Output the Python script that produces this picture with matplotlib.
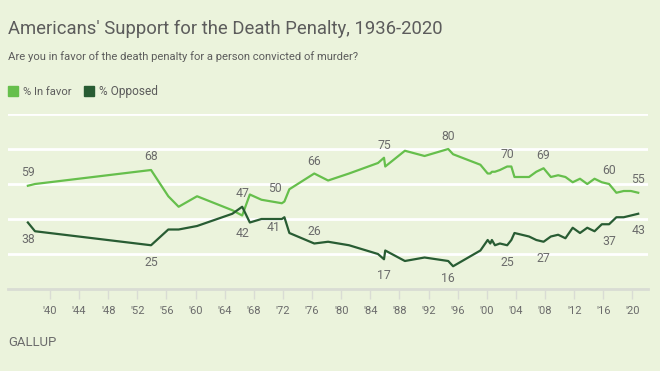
import matplotlib
matplotlib.use("Agg")
import matplotlib.pyplot as plt

# ---------------- data ----------------
years = [1936.96, 1937.94, 1953.88, 1956.25, 1957.67, 1960.2, 1965.05, 1966.4, 1967.45,
         1969.05, 1971.85, 1972.2, 1972.88, 1976.3, 1978.2, 1981.08, 1985.05, 1985.88,
         1986.05, 1988.75, 1991.45, 1994.7, 1995.37, 1999.12, 2000.12, 2000.48, 2000.7,
         2001.12, 2001.8, 2002.8, 2003.37, 2003.8, 2004.8, 2005.8, 2006.8, 2007.8,
         2008.8, 2009.8, 2010.8, 2011.8, 2012.8, 2013.8, 2014.8, 2015.8, 2016.8,
         2017.8, 2018.8, 2019.8, 2020.8]
in_favor = [59, 60, 68, 53, 47, 53, 45, 42, 54,
            51, 49, 50, 57, 66, 62, 66, 72, 75,
            70, 79, 76, 80, 77, 71, 66, 66, 67,
            67, 68, 70, 70, 64, 64, 64, 67, 69,
            64, 65, 64, 61, 63, 60, 63, 61, 60,
            55, 56, 56, 55]
opposed = [38, 33, 25, 34, 34, 36, 43, 47, 38,
           40, 40, 41, 32, 26, 27, 25, 20, 17,
           22, 16, 18, 16, 13, 22, 28, 26, 28,
           25, 26, 25, 28, 32, 31, 30, 28, 27,
           30, 31, 29, 35, 32, 35, 33, 37, 37,
           41, 41, 42, 43]
tick_years = list(range(1940, 2021, 4))
tick_labels = ["'" + str(y)[2:] for y in tick_years]
series_names = ["% In favor", "% Opposed"]
title = "Americans' Support for the Death Penalty, 1936-2020"
subtitle = "Are you in favor of the death penalty for a person convicted of murder?"

# indices of labelled points
favor_label_idx = [0, 2, 7, 11, 13, 17, 21, 29, 35, 44, 48]
opposed_label_idx = [0, 2, 7, 11, 13, 17, 21, 29, 35, 44, 48]

# ---------------- style ----------------
BG = "#ebf3dc"
GREEN = "#66bf4c"
DARK = "#285c33"
GRAY = "#6b6b6b"
TXT = "#5c5c5c"

plt.rcParams["font.family"] = ["Roboto", "DejaVu Sans"]

W, H = 660, 371
fig = plt.figure(figsize=(W / 100, H / 100), dpi=100, facecolor=BG)
renderer = fig.canvas.get_renderer()


def fit_text(x, y, s, width, size0=10, **kw):
    """Place text at pixel (x, y baseline) with size fitted to a pixel width."""
    t = fig.text(x / W, 1 - y / H, s, fontsize=size0, ha="left", va="baseline", **kw)
    w = t.get_window_extent(renderer).width
    t.set_fontsize(size0 * width / w)
    return t


x0, x1 = 8, 648
y_top, y_bot = 114, 289
ax = fig.add_axes([x0 / W, 1 - y_bot / H, (x1 - x0) / W, (y_bot - y_top) / H])
ax.set_facecolor(BG)
px_per_year = 7.28
ax.set_xlim(1940 - (50 - x0) / px_per_year, 1940 + (x1 - 50) / px_per_year)
ax.set_ylim(0, 100)

for s in ["top", "right", "left"]:
    ax.spines[s].set_visible(False)
ax.spines["bottom"].set_color("#d9dcd4")
ax.spines["bottom"].set_linewidth(2)
ax.set_yticks([20, 40, 60, 80, 100])
ax.yaxis.grid(True, color="white", linewidth=2)
ax.tick_params(axis="y", length=0, labelleft=False)
ax.set_xticks(tick_years)
ax.set_xticklabels(tick_labels, fontsize=8, color=GRAY)
ax.tick_params(axis="x", length=7, width=1, color="#d9dcd4", pad=5)
ax.set_axisbelow(True)

ax.plot(years, in_favor, color=GREEN, lw=1.6, clip_on=False, zorder=3)
ax.plot(years, opposed, color=DARK, lw=1.6, clip_on=False, zorder=3)

# label offsets in pixels (dx, dy)
favor_offsets = {0: (0, 13), 2: (0, 13), 7: (0, -18), 11: (-9, 13), 13: (0, 12),
                 17: (0, 12), 21: (0, 13), 29: (0, 12), 35: (0, 13), 44: (0, 13), 48: (0, 13)}
opposed_offsets = {0: (0, -17), 2: (0, -17), 7: (0, 13), 11: (-11, -10), 13: (0, 12),
                   17: (0, -16), 21: (0, -17), 29: (0, -17), 35: (0, -17), 44: (0, -17), 48: (0, -17)}
LBL = 8.8
for i in favor_label_idx:
    ax.annotate(str(in_favor[i]), (years[i], in_favor[i]), xytext=favor_offsets[i],
                textcoords="offset pixels", ha="center", va="center", fontsize=LBL,
                color=GRAY, annotation_clip=False)
for i in opposed_label_idx:
    ax.annotate(str(opposed[i]), (years[i], opposed[i]), xytext=opposed_offsets[i],
                textcoords="offset pixels", ha="center", va="center", fontsize=LBL,
                color=GRAY, annotation_clip=False)

# titles
fit_text(8, 34, title, 438, 14, color=TXT)
fit_text(8, 60, subtitle, 353, 8, color=TXT)

# legend
legend_x = [8, 84]
legend_w = [49, 59]
for name, col, lx, tw in zip(series_names, [GREEN, DARK], legend_x, legend_w):
    fig.patches.append(plt.Rectangle((lx / W, 1 - 95.5 / H), 9.5 / W, 9.5 / H, color=col,
                                     transform=fig.transFigure, figure=fig))
    fit_text(lx + 15, 95, name, tw, 8, color=TXT)

fit_text(8, 346, "GALLUP", 48, 8.5, color=GRAY)

fig.savefig("out.png", dpi=100, facecolor=BG)
